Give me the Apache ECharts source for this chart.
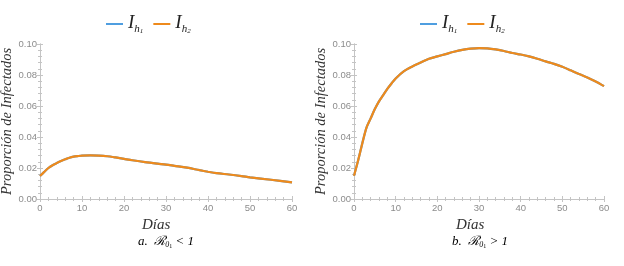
<!DOCTYPE html>
<html><head><meta charset="utf-8">
<script src="https://cdn.jsdelivr.net/npm/echarts@6/dist/echarts.min.js"></script>
<style>html,body{margin:0;padding:0;background:#fff}#c{width:624px;height:266px}</style>
</head><body><div id="c"></div><script>
// Panel a (R0 < 1)
const daysA = [0,1,2,3,4,5,6,7,8,9,10,12,14,16,18,20,22,25,28,30,32,35,38,40,42,45,48,50,55,60];
const ih1A = [0.0148,0.0175,0.0200,0.0218,0.0232,0.0245,0.0256,0.0266,0.0273,0.0277,0.0280,0.0281,0.0280,0.0276,0.0268,0.0259,0.0250,0.0238,0.0228,0.0222,0.0214,0.0202,0.0186,0.0176,0.0167,0.0158,0.0148,0.0140,0.0124,0.0107];
const ih2A = [0.0148,0.0175,0.0200,0.0218,0.0232,0.0245,0.0256,0.0266,0.0273,0.0277,0.0280,0.0281,0.0280,0.0276,0.0268,0.0259,0.0250,0.0238,0.0228,0.0222,0.0214,0.0202,0.0186,0.0176,0.0167,0.0158,0.0148,0.0140,0.0124,0.0107];
// Panel b (R0 > 1)
const daysB = [0,1,2,3,4,5,6,7,8,9,10,12,14,16,18,20,22,24,26,28,30,32,34,36,38,40,42,44,46,48,50,52,54,56,58,60];
const ih1B = [0.0150,0.0250,0.0360,0.0460,0.0520,0.0580,0.0630,0.0670,0.0710,0.0745,0.0778,0.0825,0.0855,0.0880,0.0905,0.0920,0.0935,0.0950,0.0962,0.0970,0.0974,0.0972,0.0965,0.0955,0.0942,0.0932,0.0920,0.0905,0.0888,0.0872,0.0853,0.0830,0.0806,0.0784,0.0758,0.0728];
const ih2B = [0.0150,0.0250,0.0360,0.0460,0.0520,0.0580,0.0630,0.0670,0.0710,0.0745,0.0778,0.0825,0.0855,0.0880,0.0905,0.0920,0.0935,0.0950,0.0962,0.0970,0.0974,0.0972,0.0965,0.0955,0.0942,0.0932,0.0920,0.0905,0.0888,0.0872,0.0853,0.0830,0.0806,0.0784,0.0758,0.0728];
const seriesNames = ['Ih1','Ih2'];
const xTicks = {min:0, max:60, interval:10};
const yTicks = {min:0, max:0.10, interval:0.02};

const BLUE = '#4f9ee0', ORANGE = '#ee8a1c', FRAME = '#c4c4c4', LBL = '#8c8c8c';
const serif = 'Liberation Serif';

function pairs(xs, ys){ return xs.map((x,i)=>[x, ys[i]]); }

const chart = echarts.init(document.getElementById('c'), null, {renderer:'canvas'});

const grids = [
  {left:40, top:44, width:252, height:155, containLabel:false, outerBoundsMode:'none'},
  {left:354, top:44, width:250, height:155, containLabel:false, outerBoundsMode:'none'}
];

function xAxes(gi){
  const base = {gridIndex:gi, type:'value', min:xTicks.min, max:xTicks.max, interval:xTicks.interval,
    splitLine:{show:false},
    axisLine:{show:true, lineStyle:{color:FRAME, width:1}},
    axisTick:{show:true, inside:true, length:3, lineStyle:{color:FRAME}},
    minorTick:{show:true, splitNumber:5, length:2, lineStyle:{color:FRAME}}};
  return [
    Object.assign({}, base, {position:'bottom',
      axisLabel:{show:true, color:LBL, fontSize:9.5, fontFamily:'Liberation Sans', margin:4}}),
    Object.assign({}, base, {position:'top', axisLabel:{show:false}})
  ];
}
function yAxes(gi){
  const base = {gridIndex:gi, type:'value', min:yTicks.min, max:yTicks.max, interval:yTicks.interval,
    splitLine:{show:false},
    axisLine:{show:true, lineStyle:{color:FRAME, width:1}},
    axisTick:{show:true, inside:true, length:3, lineStyle:{color:FRAME}},
    minorTick:{show:true, splitNumber:5, length:2, lineStyle:{color:FRAME}}};
  return [
    Object.assign({}, base, {position:'left',
      name:'Proporción de Infectados', nameLocation:'middle', nameGap:23, nameRotate:90,
      nameTextStyle:{fontFamily:serif, fontStyle:'italic', fontSize:14.5, color:'#333'},
      axisLabel:{show:true, color:LBL, fontSize:9.5, fontFamily:'Liberation Sans', margin:3,
        formatter:v=>v.toFixed(2)}}),
    Object.assign({}, base, {position:'right', axisLabel:{show:false}})
  ];
}

const legendRich = {
  i:{fontFamily:serif, fontStyle:'italic', fontSize:19, color:'#222', lineHeight:22, verticalAlign:'top'},
  h:{fontFamily:serif, fontStyle:'italic', fontSize:11, color:'#222', lineHeight:14, verticalAlign:'bottom'},
  n:{fontFamily:serif, fontStyle:'italic', fontSize:7, color:'#222', lineHeight:8, verticalAlign:'bottom'}
};
function legend(cx){
  return {left:cx, top:8, itemWidth:17, itemHeight:2, icon:'rect', itemGap:10,
    data:seriesNames,
    formatter:n=>'{i|I}{h|h}{n|'+n.slice(2)+'}',
    textStyle:{rich:legendRich, padding:[0,0,0,0]}};
}

function line(name, xi, yi, xs, ys, color){
  return {name, type:'line', xAxisIndex:xi, yAxisIndex:yi, data:pairs(xs,ys), showSymbol:false,
    smooth:0.3, lineStyle:{color, width:2.2}, itemStyle:{color}};
}

const capRich = {
  t:{fontFamily:serif, fontStyle:'italic', fontSize:13, color:'#222'},
  s:{fontFamily:serif, fontStyle:'italic', fontSize:8, color:'#222', padding:[6,0,0,0]},
  ss:{fontFamily:serif, fontSize:6, color:'#222', padding:[9,0,0,0]}
};

chart.setOption({
  animation:false,
  grid:grids,
  xAxis:[...xAxes(0), ...xAxes(1)],
  yAxis:[...yAxes(0), ...yAxes(1)],
  legend:[legend(101), legend(415)],
  series:[
    line(seriesNames[0],0,0,daysA,ih1A,BLUE),
    line(seriesNames[1],0,0,daysA,ih2A,ORANGE),
    line(seriesNames[0],2,2,daysB,ih1B,BLUE),
    line(seriesNames[1],2,2,daysB,ih2B,ORANGE)
  ],
  graphic:[
    {type:'text', left:142, top:218, style:{text:'Días', font:'italic 15px "Liberation Serif"', fill:'#333'}},
    {type:'text', left:456, top:218, style:{text:'Días', font:'italic 15px "Liberation Serif"', fill:'#333'}},
    {type:'text', left:138, top:235, style:{text:'{t|a.  ℛ}{s|0}{ss|1}{t| < 1}', rich:capRich}},
    {type:'text', left:452, top:235, style:{text:'{t|b.  ℛ}{s|0}{ss|1}{t| > 1}', rich:capRich}}
  ]
});
</script></body></html>
